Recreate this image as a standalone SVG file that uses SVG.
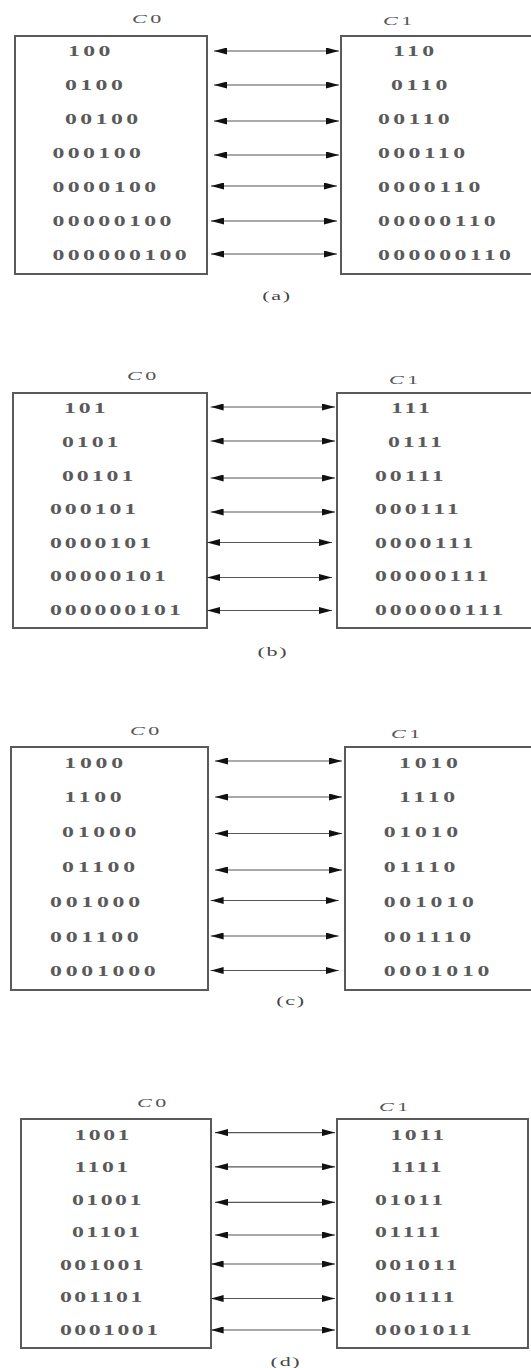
<svg xmlns="http://www.w3.org/2000/svg" width="531" height="1368" viewBox="0 0 531 1368">
<style>
.box{fill:#fff;stroke:#5a5a5a;stroke-width:2}
.t{font-family:"Liberation Serif","Times New Roman",serif;font-size:14px;font-weight:bold;fill:#5a5a5a}
.lbl{font-family:"Liberation Serif","Times New Roman",serif;font-size:13px;fill:#555;letter-spacing:2px}
.cap{font-family:"Liberation Serif","Times New Roman",serif;font-size:13px;fill:#454545;letter-spacing:1px;text-anchor:middle}
.a{stroke:#555;stroke-width:1.2;marker-start:url(#ah);marker-end:url(#ah)}
</style>
<defs>
<marker id="ah" viewBox="0 0 13 7" refX="13" refY="3.5" markerWidth="13" markerHeight="7" markerUnits="userSpaceOnUse" orient="auto-start-reverse">
<path d="M0,0 L13,3.5 L0,7 z" fill="#111"/>
</marker>
</defs>
<rect width="531" height="1368" fill="#fff"/>

<!-- Panel (a) -->
<g id="a-C0">
<rect class="box" x="15" y="36" width="192" height="238"/>
<g transform="scale(1.7 1)">
<text class="lbl" x="77.65" y="23"><tspan font-style="italic">C</tspan>0</text>
<g class="t" style="letter-spacing:2px">
<text x="40" y="56.2">100</text>
<text x="38.24" y="90.1">0100</text>
<text x="38.24" y="124">00100</text>
<text x="30.88" y="157.9">000100</text>
<text x="30.88" y="191.8">0000100</text>
<text x="30.88" y="225.7">00000100</text>
<text x="30.88" y="259.7">000000100</text>
</g>
</g>
</g>
<g id="a-C1">
<rect class="box" x="341" y="36" width="200" height="238"/>
<g transform="scale(1.7 1)">
<text class="lbl" x="225.29" y="25"><tspan font-style="italic">C</tspan>1</text>
<g class="t" style="letter-spacing:2px">
<text x="231.18" y="56.2">110</text>
<text x="230" y="90.1">0110</text>
<text x="222.35" y="124">00110</text>
<text x="222.35" y="157.9">000110</text>
<text x="222.35" y="191.8">0000110</text>
<text x="222.35" y="225.7">00000110</text>
<text x="222.35" y="259.7">000000110</text>
</g>
</g>
</g>
<g id="a-caption" transform="scale(1.7 1)"><text class="cap" x="162.94" y="300">(a)</text></g>

<!-- Panel (b) -->
<g id="b-C0">
<rect class="box" x="13" y="393" width="194" height="235"/>
<g transform="scale(1.7 1)">
<text class="lbl" x="74.71" y="380"><tspan font-style="italic">C</tspan>0</text>
<g class="t" style="letter-spacing:1.75px">
<text x="37.65" y="413.4">101</text>
<text x="36.47" y="447">0101</text>
<text x="36.47" y="480.6">00101</text>
<text x="29.41" y="514.2">000101</text>
<text x="29.41" y="547.8">0000101</text>
<text x="29.41" y="581.4">00000101</text>
<text x="29.41" y="615">000000101</text>
</g>
</g>
</g>
<g id="b-C1">
<rect class="box" x="337" y="393" width="204" height="235"/>
<g transform="scale(1.7 1)">
<text class="lbl" x="228.82" y="384"><tspan font-style="italic">C</tspan>1</text>
<g class="t" style="letter-spacing:1.75px">
<text x="230" y="413.4">111</text>
<text x="228.24" y="447">0111</text>
<text x="220.59" y="480.6">00111</text>
<text x="220.59" y="514.2">000111</text>
<text x="220.59" y="547.8">0000111</text>
<text x="220.59" y="581.4">00000111</text>
<text x="220.59" y="615">000000111</text>
</g>
</g>
</g>
<g id="b-caption" transform="scale(1.7 1)"><text class="cap" x="160.59" y="656">(b)</text></g>

<!-- Panel (c) -->
<g id="c-C0">
<rect class="box" x="11" y="747" width="197" height="243"/>
<g transform="scale(1.7 1)">
<text class="lbl" x="76.47" y="735"><tspan font-style="italic">C</tspan>0</text>
<g class="t" style="letter-spacing:2.2px">
<text x="37.82" y="767.7">1000</text>
<text x="37.82" y="802.5">1100</text>
<text x="36.47" y="837.3">01000</text>
<text x="36.47" y="872.1">01100</text>
<text x="29.41" y="906.9">001000</text>
<text x="29.41" y="941.7">001100</text>
<text x="29.41" y="976.5">0001000</text>
</g>
</g>
</g>
<g id="c-C1">
<rect class="box" x="345" y="747" width="196" height="243"/>
<g transform="scale(1.7 1)">
<text class="lbl" x="230" y="738"><tspan font-style="italic">C</tspan>1</text>
<g class="t" style="letter-spacing:2.2px">
<text x="234.71" y="767.7">1010</text>
<text x="234.71" y="802.5">1110</text>
<text x="225.71" y="837.3">01010</text>
<text x="225.71" y="872.1">01110</text>
<text x="225.71" y="906.9">001010</text>
<text x="225.71" y="941.7">001110</text>
<text x="225.71" y="976.5">0001010</text>
</g>
</g>
</g>
<g id="c-caption" transform="scale(1.7 1)"><text class="cap" x="171.18" y="1005">(c)</text></g>

<!-- Panel (d) -->
<g id="d-C0">
<rect class="box" x="21" y="1119" width="190" height="229"/>
<g transform="scale(1.7 1)">
<text class="lbl" x="80.59" y="1107"><tspan font-style="italic">C</tspan>0</text>
<g class="t" style="letter-spacing:1.45px">
<text x="43.82" y="1139.7">1001</text>
<text x="43.82" y="1172.2">1101</text>
<text x="42.35" y="1204.7">01001</text>
<text x="42.35" y="1237.2">01101</text>
<text x="35.29" y="1269.7">001001</text>
<text x="35.29" y="1302.2">001101</text>
<text x="35.29" y="1334.7">0001001</text>
</g>
</g>
</g>
<g id="d-C1">
<rect class="box" x="337" y="1119" width="191" height="229"/>
<g transform="scale(1.7 1)">
<text class="lbl" x="222.94" y="1111"><tspan font-style="italic">C</tspan>1</text>
<g class="t" style="letter-spacing:1.45px">
<text x="229.71" y="1139.7">1011</text>
<text x="229.71" y="1172.2">1111</text>
<text x="220.59" y="1204.7">01011</text>
<text x="220.59" y="1237.2">01111</text>
<text x="220.59" y="1269.7">001011</text>
<text x="220.59" y="1302.2">001111</text>
<text x="220.59" y="1334.7">0001011</text>
</g>
</g>
</g>
<g id="d-caption" transform="scale(1.7 1)"><text class="cap" x="168.24" y="1366">(d)</text></g>

<!-- Connectors -->
<g id="connectors">
<line class="a" x1="214" y1="51" x2="339" y2="51"/>
<line class="a" x1="214" y1="85" x2="339" y2="85"/>
<line class="a" x1="214" y1="121" x2="339" y2="121"/>
<line class="a" x1="214" y1="155" x2="339" y2="155"/>
<line class="a" x1="211" y1="186" x2="337" y2="186"/>
<line class="a" x1="211" y1="221" x2="337" y2="221"/>
<line class="a" x1="211" y1="254" x2="337" y2="254"/>

<line class="a" x1="210.6" y1="407" x2="335" y2="407"/>
<line class="a" x1="210.6" y1="441" x2="335" y2="441"/>
<line class="a" x1="210.6" y1="478" x2="335" y2="478"/>
<line class="a" x1="210.6" y1="512" x2="335" y2="512"/>
<line class="a" x1="207" y1="542.5" x2="332" y2="542.5"/>
<line class="a" x1="207" y1="577.5" x2="332" y2="577.5"/>
<line class="a" x1="207" y1="610.5" x2="332" y2="610.5"/>

<line class="a" x1="215" y1="761" x2="342" y2="761"/>
<line class="a" x1="215" y1="797" x2="342" y2="797"/>
<line class="a" x1="215" y1="833.5" x2="342" y2="833.5"/>
<line class="a" x1="215" y1="870" x2="342" y2="870"/>
<line class="a" x1="210.6" y1="900.5" x2="338.6" y2="900.5"/>
<line class="a" x1="210.6" y1="936" x2="338.6" y2="936"/>
<line class="a" x1="210.6" y1="970.5" x2="338.6" y2="970.5"/>

<line class="a" x1="215" y1="1132.6" x2="335" y2="1132.6"/>
<line class="a" x1="215" y1="1166.8" x2="335" y2="1166.8"/>
<line class="a" x1="215" y1="1202.3" x2="335" y2="1202.3"/>
<line class="a" x1="215" y1="1235" x2="335" y2="1235"/>
<line class="a" x1="210.6" y1="1264" x2="335" y2="1264"/>
<line class="a" x1="210.6" y1="1298.5" x2="335" y2="1298.5"/>
<line class="a" x1="210.6" y1="1330" x2="335" y2="1330"/>
</g>
</svg>
